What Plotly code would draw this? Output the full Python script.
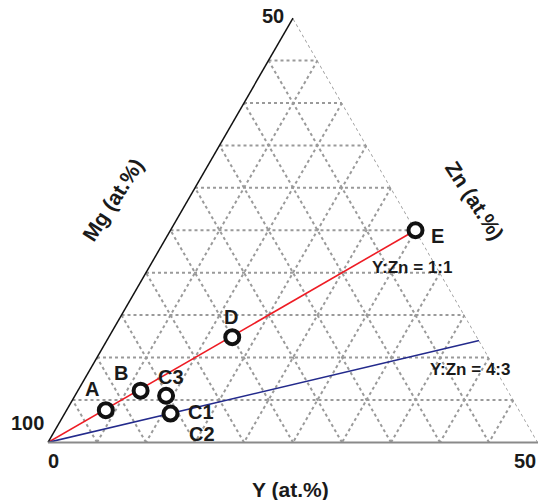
import plotly.graph_objects as go

# ---- data (at.%) ----
point_labels = ["A", "B", "C3", "C1", "D", "E"]
y_at = [4.0, 6.4, 9.3, 10.8, 12.6, 25.0]
zn_at = [3.8, 6.1, 5.5, 3.4, 12.4, 25.0]
mg_at = [100 - a - b for a, b in zip(y_at, zn_at)]

# composition lines from Mg corner
line11_y = [0.0, 25.0]
line11_zn = [0.0, 25.0]
line43_y = [0.0, 38.0]
line43_zn = [0.0, 12.0]

# right boundary (Mg = 50)
edge_y = [50.0, 0.0]
edge_zn = [0.0, 50.0]

W, H = 540, 500
FONT = "Liberation Sans, Arial, sans-serif"


def mg(ys, zs):
    return [100 - a - b for a, b in zip(ys, zs)]


fig = go.Figure()

fig.add_trace(go.Scatterternary(
    a=edge_zn, b=mg(edge_y, edge_zn), c=edge_y, mode="lines", cliponaxis=False,
    line=dict(color="#9a9a9a", width=1.6, dash="dot"), hoverinfo="skip"))

fig.add_trace(go.Scatterternary(
    a=line11_zn, b=mg(line11_y, line11_zn), c=line11_y, mode="lines",
    line=dict(color="#ee1c24", width=1.6), hoverinfo="skip"))

fig.add_trace(go.Scatterternary(
    a=line43_zn, b=mg(line43_y, line43_zn), c=line43_y, mode="lines",
    line=dict(color="#232a8c", width=1.6), hoverinfo="skip"))

fig.add_trace(go.Scatterternary(
    a=zn_at, b=mg_at, c=y_at, mode="markers", text=point_labels,
    cliponaxis=False,
    marker=dict(size=14, color="white", line=dict(color="#111111", width=4))))

ax_common = dict(showticklabels=False, ticks="", title=dict(text=""),
                 showgrid=True, gridcolor="#9a9a9a", gridwidth=1.5,
                 griddash="dot", tick0=0, dtick=5)

# triangle corners in reference pixels: (48,442), (538,442), (293,19)
dom_x = [48 / W, 538 / W]
dom_y = [1 - 442.5 / H, 1 - 18 / H]

fig.update_layout(
    width=W, height=H,
    margin=dict(l=0, r=0, t=0, b=0),
    paper_bgcolor="white",
    showlegend=False,
    font=dict(family=FONT, color="#1a1a1a"),
    ternary=dict(
        sum=100,
        bgcolor="white",
        domain=dict(x=dom_x, y=dom_y),
        aaxis=dict(min=0, showline=True, linecolor="#111111", linewidth=1.5, **ax_common),
        baxis=dict(min=50, showline=True, linecolor="#8a8a8a", linewidth=2, **ax_common),
        caxis=dict(min=0, showline=False, **ax_common),
    ),
)


def ann(text, px, py, size, angle=0):
    fig.add_annotation(text="<b>%s</b>" % text, x=px / W, y=1 - py / H,
                       xref="paper", yref="paper", showarrow=False,
                       textangle=angle, font=dict(size=size, family=FONT, color="#1a1a1a"),
                       xanchor="center", yanchor="middle")


# corner values
ann("50", 273, 16, 20)
ann("100", 27, 423, 20)
ann("0", 53, 461, 20)
ann("50", 525, 461, 20)

# axis titles
ann("Mg (at.%)", 112, 200, 21, -57)
ann("Zn (at.%)", 475, 200, 21, 57)
ann("Y (at.%)", 290, 489, 21)

# point labels
label_pos = {"A": (92, 389), "B": (121, 373), "C3": (171, 377), "C1": (201, 412),
             "C2": (202, 434), "D": (231, 317), "E": (437, 236)}
for t, (px, py) in label_pos.items():
    ann(t, px, py, 20)

ann("Y:Zn = 1:1", 412, 267, 17)
ann("Y:Zn = 4:3", 470, 369, 17)

fig.write_html("out.html", config={"displayModeBar": False},
               post_script="document.body.style.margin='0';")
